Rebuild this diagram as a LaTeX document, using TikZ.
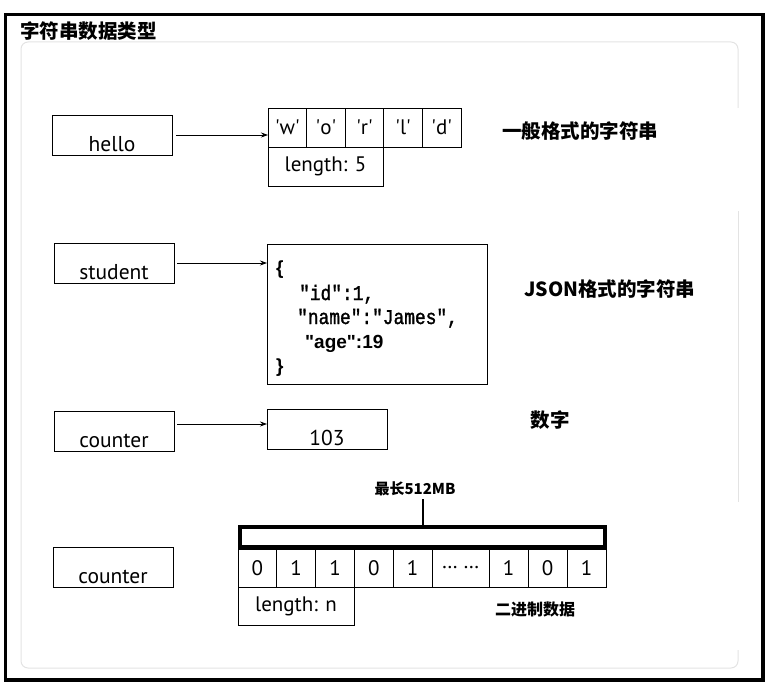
\documentclass[tikz,border=0pt]{standalone}
\usepackage{fontspec}
\setmainfont{PT Sans}
\newfontfamily\cjk{Noto Sans CJK SC}
\newfontfamily\monof{Liberation Mono}[FakeStretch=0.85,FakeBold=1.5]
\newfontfamily\arialf{Liberation Sans}
\usetikzlibrary{arrows.meta}
\definecolor{framegray}{HTML}{E3E3E3}
\newcommand\qq[1]{\textquotesingle#1\textquotesingle}
\begin{document}
\begin{tikzpicture}[x=1pt,y=-1pt,
  box/.style={draw, line width=0.9pt, inner sep=0pt, outer sep=0pt, anchor=north west,
    font=\fontsize{21}{23}\selectfont},
  varbox/.style={box, minimum width=120pt, minimum height=40pt},
  lbl/.style={anchor=base, inner sep=0pt, font=\fontsize{21.5}{23}\selectfont},
  cn/.style={inner sep=0pt, font=\cjk\bfseries\fontsize{19.5}{22}\selectfont},
  mono/.style={anchor=base west, inner sep=0pt, font=\monof\fontsize{21}{22}\selectfont},
  boldsans/.style={inner sep=0pt, font=\arialf\bfseries\fontsize{19}{21}\selectfont},
  arr/.style={-{Stealth[length=7pt,width=5pt]}, line width=0.8pt}]
\useasboundingbox (0,0) rectangle (772,693);
% frames
\draw[line width=3.5pt] (5.5,14.5) rectangle (763,680);
\draw[framegray, line width=1pt, rounded corners=7pt]
  (738,650) -- (738,668) -- (21,668) -- (21,42) -- (738,42) -- (738,108);
\draw[framegray, line width=1pt] (738,211) -- (738,502);
\node[cn, anchor=west] (title) at (20,31) {字符串数据类型};

% row 1: hello
\node[varbox] (hello) at (52,115) {};
\node[lbl] (hellot) at (112,151) {hello};
\foreach \t [count=\i from 0] in {w,o,r,l,d}
  \node[box, minimum width=38.6pt, minimum height=39pt] (c\i) at ({268+38.6*\i},108) {\qq{\t}};
\node[box, minimum width=115pt, minimum height=39pt] (len1) at (268,147) {length: 5};
\draw[arr, shorten <=4pt] (hello.east) -- (hello.east -| c0.west);
\node[cn, anchor=west] (lab1) at (502,131) {一般格式的字符串};

% row 2: student
\node[varbox] (student) at (54,243) {};
\node[lbl] (studentt) at (114,279) {student};
\node[box, minimum width=220pt, minimum height=140pt] (json) at (267,244) {};
\node[boldsans, anchor=west] (jopen) at (276,270) {\{};
\node[mono] (jid) at (299,300) {″id″:1,};
\node[mono] (jname) at (297,324) {″name″:″James″,};
\node[boldsans, anchor=base west] (jage) at (305,348) {\textquotedbl age\textquotedbl:19};
\node[boldsans, anchor=west] (jclose) at (276,368) {\}};
\draw[arr, shorten <=3pt] (student.east) -- (student.east -| json.west);
\node[cn, anchor=west] (lab2) at (524,289) {JSON格式的字符串};

% row 3: counter -> 103
\node[varbox] (cnt) at (54,411) {};
\node[lbl] (cntt) at (114,447) {counter};
\node[varbox] (num) at (267,409) {};
\node[lbl] (numt) at (327,445) {103};
\draw[arr, shorten <=3pt] ([yshift=7pt]cnt.east) -- ([yshift=7pt]cnt.east -| num.west);
\node[cn] (lab3) at (550,420) {数字};

% row 4: binary
\node[varbox] (cnt2) at (53,547) {};
\node[lbl] (cnt2t) at (113,583) {counter};
\node[draw, line width=3.5pt, anchor=north west, inner sep=0pt, outer sep=0pt,
  minimum width=365pt, minimum height=20pt] (bar) at (240,527) {};
\node[box, minimum width=38.8pt, minimum height=38pt] (b1) at (238,549) {0};
\node[box, minimum width=38.8pt, minimum height=38pt] (b2) at (276.8,549) {1};
\node[box, minimum width=38.8pt, minimum height=38pt] (b3) at (315.6,549) {1};
\node[box, minimum width=38.8pt, minimum height=38pt] (b4) at (354.4,549) {0};
\node[box, minimum width=38.8pt, minimum height=38pt] (b5) at (393.2,549) {1};
\node[box, minimum width=57pt, minimum height=38pt] (b6) at (432,549) {… …};
\node[box, minimum width=39pt, minimum height=38pt] (b7) at (489,549) {1};
\node[box, minimum width=39pt, minimum height=38pt] (b8) at (528,549) {0};
\node[box, minimum width=39pt, minimum height=38pt] (b9) at (567,549) {1};
\node[box, minimum width=116pt, minimum height=38pt] (lenn) at (238,587) {length: n};
\node[inner sep=0pt, font=\cjk\bfseries\fontsize{15}{16}\selectfont] (maxl) at (415,489) {最长512MB};
\draw[line width=2pt, shorten <=3pt] ([xshift=8pt]maxl.south) -- ([xshift=8pt]maxl.south |- bar.north);
\node[inner sep=0pt, font=\cjk\bfseries\fontsize{16}{18}\selectfont] (lab4) at (535,609) {二进制数据};
\end{tikzpicture}
\end{document}
